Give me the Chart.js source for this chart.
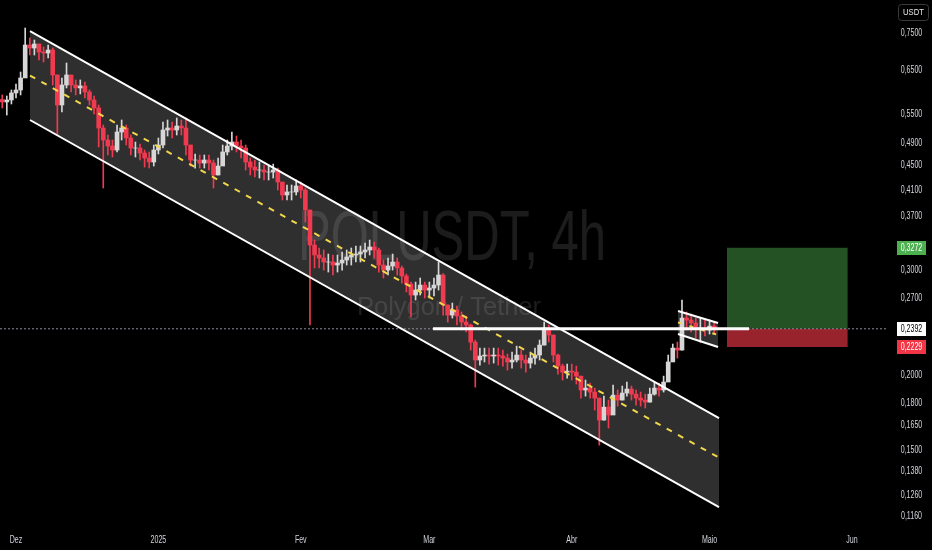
<!DOCTYPE html>
<html>
<head>
<meta charset="utf-8">
<title>POLUSDT, 4h</title>
<script src="https://cdn.jsdelivr.net/npm/chart.js"></script>
<style>
  html, body { margin: 0; padding: 0; background: #000; overflow: hidden; }
  #wrap { width: 932px; height: 550px; }
</style>
</head>
<body>
<div id="wrap"><canvas id="chart"></canvas></div>
<script>
// x values are days counted from 1 Dez 2024, one candle per day
const firstDay = -3;
const firstOpen = 0.5800;
const closes = [
  0.5746, 0.5790, 0.5949, 0.6018, 0.6304, 0.7160, 0.7078, 0.7188, 0.6969, 0.6942,
  0.7023, 0.6377, 0.5679, 0.6135, 0.6377, 0.6135, 0.6065, 0.6112, 0.5972, 0.5790,
  0.5614, 0.5196, 0.4960, 0.4846, 0.4772, 0.5116, 0.5196, 0.4999, 0.4809, 0.4809,
  0.4717, 0.4627, 0.4556, 0.4772, 0.4865, 0.5156, 0.5196, 0.5156, 0.5236, 0.5196,
  0.4865, 0.4591, 0.4591, 0.4538, 0.4591, 0.4538, 0.4333, 0.4486, 0.4736, 0.4846,
  0.4922, 0.4846, 0.4809, 0.4556, 0.4468, 0.4417, 0.4417, 0.4383, 0.4383, 0.4417,
  0.4217, 0.4011, 0.4058, 0.4058, 0.4153, 0.4089, 0.3785, 0.3306, 0.3181, 0.3144,
  0.3096, 0.3096, 0.3060, 0.3084, 0.3120, 0.3156, 0.3181, 0.3193, 0.3218, 0.3243,
  0.3281, 0.3243, 0.3060, 0.3001, 0.3048, 0.3096, 0.3025, 0.2933, 0.2843, 0.2725,
  0.2778, 0.2832, 0.2778, 0.2800, 0.2832, 0.2944, 0.2622, 0.2522, 0.2572, 0.2513,
  0.2455, 0.2427, 0.2272, 0.2120, 0.2153, 0.2161, 0.2153, 0.2161, 0.2153, 0.2136,
  0.2104, 0.2120, 0.2161, 0.2120, 0.2095, 0.2136, 0.2161, 0.2246, 0.2399, 0.2335,
  0.2161, 0.2071, 0.2023, 0.2031, 0.2023, 0.1992, 0.1888, 0.1902, 0.1873, 0.1830,
  0.1681, 0.1767, 0.1714, 0.1851, 0.1816, 0.1866, 0.1895, 0.1858, 0.1830, 0.1816,
  0.1802, 0.1858, 0.1902, 0.1888, 0.1947, 0.2104, 0.2220, 0.2203, 0.2493, 0.2474,
  0.2446, 0.2399, 0.2399, 0.2380, 0.2417, 0.2392
];
const highs = [
  0.5903, 0.5880, 0.6018, 0.6159, 0.6451, 0.7646, 0.7356, 0.7300, 0.7160, 0.7105,
  0.7160, 0.7080, 0.6377, 0.6304, 0.6679, 0.6377, 0.6255, 0.6255, 0.6207, 0.6018,
  0.5880, 0.5679, 0.5256, 0.5057, 0.4960, 0.5256, 0.5359, 0.5256, 0.5057, 0.4922,
  0.4884, 0.4772, 0.4736, 0.4865, 0.4999, 0.5317, 0.5359, 0.5317, 0.5401, 0.5359,
  0.5401, 0.4809, 0.4699, 0.4681, 0.4681, 0.4681, 0.4591, 0.4627, 0.4865, 0.4960,
  0.5116, 0.5037, 0.4960, 0.4865, 0.4627, 0.4591, 0.4556, 0.4503, 0.4486, 0.4520,
  0.4451, 0.4217, 0.4169, 0.4169, 0.4250, 0.4217, 0.4121, 0.3712, 0.3370, 0.3268,
  0.3243, 0.3193, 0.3181, 0.3181, 0.3218, 0.3243, 0.3268, 0.3293, 0.3293, 0.3331,
  0.3370, 0.3344, 0.3268, 0.3120, 0.3144, 0.3193, 0.3144, 0.3048, 0.2955, 0.2865,
  0.2865, 0.2910, 0.2865, 0.2865, 0.2910, 0.3096, 0.2960, 0.2622, 0.2642, 0.2612,
  0.2552, 0.2513, 0.2436, 0.2290, 0.2220, 0.2220, 0.2220, 0.2220, 0.2220, 0.2203,
  0.2169, 0.2186, 0.2237, 0.2203, 0.2161, 0.2186, 0.2220, 0.2290, 0.2455, 0.2427,
  0.2335, 0.2170, 0.2087, 0.2087, 0.2087, 0.2071, 0.1992, 0.1962, 0.1939, 0.1902,
  0.1830, 0.1844, 0.1816, 0.1924, 0.1888, 0.1917, 0.1947, 0.1917, 0.1888, 0.1873,
  0.1858, 0.1902, 0.1947, 0.1939, 0.1992, 0.2161, 0.2255, 0.2272, 0.2673, 0.2552,
  0.2532, 0.2493, 0.2493, 0.2474, 0.2474, 0.2455
];
const lows = [
  0.5614, 0.5463, 0.5701, 0.5835, 0.5903, 0.6377, 0.6889, 0.6889, 0.6757, 0.6705,
  0.6810, 0.6135, 0.5057, 0.5527, 0.6065, 0.5972, 0.5903, 0.5926, 0.5835, 0.5679,
  0.5484, 0.4828, 0.4121, 0.4681, 0.4645, 0.4736, 0.4960, 0.4865, 0.4681, 0.4645,
  0.4591, 0.4468, 0.4451, 0.4486, 0.4699, 0.4809, 0.5037, 0.4999, 0.5057, 0.5057,
  0.4681, 0.4486, 0.4451, 0.4451, 0.4451, 0.4417, 0.4121, 0.4333, 0.4503, 0.4681,
  0.4772, 0.4736, 0.4627, 0.4417, 0.4333, 0.4300, 0.4283, 0.4250, 0.4250, 0.4283,
  0.4089, 0.3934, 0.3934, 0.3934, 0.4011, 0.3965, 0.3613, 0.2427, 0.3025, 0.3025,
  0.3001, 0.2978, 0.2944, 0.2978, 0.3001, 0.3060, 0.3060, 0.3096, 0.3096, 0.3144,
  0.3181, 0.3144, 0.2978, 0.2910, 0.2944, 0.3001, 0.2944, 0.2854, 0.2757, 0.2503,
  0.2673, 0.2725, 0.2694, 0.2694, 0.2715, 0.2778, 0.2522, 0.2455, 0.2493, 0.2427,
  0.2380, 0.2362, 0.2203, 0.1909, 0.2079, 0.2104, 0.2087, 0.2095, 0.2079, 0.2071,
  0.2039, 0.2055, 0.2104, 0.2055, 0.2023, 0.2055, 0.2087, 0.2120, 0.2246, 0.2272,
  0.2104, 0.2008, 0.1962, 0.1977, 0.1962, 0.1932, 0.1830, 0.1844, 0.1830, 0.1747,
  0.1526, 0.1681, 0.1630, 0.1761, 0.1774, 0.1816, 0.1844, 0.1816, 0.1781, 0.1774,
  0.1761, 0.1802, 0.1851, 0.1844, 0.1873, 0.1962, 0.2120, 0.2136, 0.2203, 0.2380,
  0.2362, 0.2308, 0.2272, 0.2326, 0.2344, 0.2344
];

const monthTicks = [0, 31, 62, 90, 121, 151, 182];
const monthLabels = ['Dez', '2025', 'Fev', 'Mar', 'Abr', 'Maio', 'Jun'];
const priceTicks = [0.75, 0.65, 0.55, 0.49, 0.45, 0.41, 0.37, 0.30, 0.27, 0.20, 0.18, 0.165, 0.15, 0.138, 0.126, 0.116];

// descending channel
const channelDays = [3.05, 153.06];
const channelTop = [0.7558, 0.1694];
const channelMid = [0.6364, 0.1454];
const channelBottom = [0.5359, 0.1201];

// small flag after the breakout
const flagDays = [144.13, 152.85];
const flagTop = [0.2562, 0.2446];
const flagMid = [0.2452, 0.2335];
const flagBottom = [0.2344, 0.2229];

// long position
const entryPrice = 0.2392;
const targetPrice = 0.3272;
const stopPrice = 0.2229;
const levelDays = [90.8, 159.6];
const positionDays = [154.8, 181.1];

const xMin = -3.484, xMax = 189.42;
const yMin = 0.11207, yMax = 0.852;

const upColor = '#d6d6d6';
const downColor = '#ef3a50';
const fillGray = 'rgba(255,255,255,0.185)';
const labelFont = "10px 'Liberation Sans', sans-serif";

const days = closes.map((_, i) => firstDay + i);
const opens = closes.map((c, i) => i === 0 ? firstOpen : closes[i - 1]);
const candleColors = closes.map((c, i) => c >= opens[i] ? upColor : downColor);
const fmtPrice = v => Number(v).toFixed(4).replace('.', ',');

const pts = (xs, ys) => xs.map((x, i) => ({ x: x, y: ys[i] }));
const flat = (xs, v) => xs.map(x => ({ x: x, y: v }));

function lineDs(data, opts) {
  return Object.assign({
    type: 'line', data: data, pointRadius: 0, borderWidth: 0,
    borderColor: 'transparent', fill: false, tension: 0
  }, opts);
}

// narrow text, like the TradingView axis font
function narrowText(ctx, text, x, y, squeeze) {
  ctx.save();
  ctx.translate(x, y);
  ctx.scale(squeeze, 1);
  ctx.fillText(text, 0, 0);
  ctx.restore();
}

const bgPlugin = {
  id: 'bg',
  beforeDraw(chart) {
    const ctx = chart.ctx;
    ctx.save();
    ctx.fillStyle = '#000';
    ctx.fillRect(0, 0, chart.width, chart.height);
    ctx.fillStyle = 'rgba(255,255,255,0.11)';
    ctx.textAlign = 'center';
    ctx.textBaseline = 'alphabetic';
    ctx.font = "70px 'Liberation Sans', sans-serif";
    narrowText(ctx, 'POLUSDT, 4h', 452, 260, 308 / ctx.measureText('POLUSDT, 4h').width);
    ctx.font = "26px 'Liberation Sans', sans-serif";
    narrowText(ctx, 'Polygon / Tether', 449, 315, 184 / ctx.measureText('Polygon / Tether').width);
    ctx.restore();
  }
};

const labelPlugin = {
  id: 'axisLabels',
  afterDraw(chart) {
    const ctx = chart.ctx;
    const xs = chart.scales.x, ys = chart.scales.y;
    ctx.save();
    ctx.font = labelFont;
    const sq = 21.6 / ctx.measureText('0,7500').width;
    ctx.textAlign = 'center';
    ctx.textBaseline = 'middle';
    ctx.fillStyle = '#d1d4dc';
    ys.ticks.forEach(t => narrowText(ctx, fmtPrice(t.value), 911.5, ys.getPixelForValue(t.value) + 0.5, sq));
    xs.ticks.forEach(t => narrowText(ctx, monthLabels[monthTicks.indexOf(t.value)], xs.getPixelForValue(t.value), 540, sq));

    const boxes = [
      [targetPrice, '#4caf50', '#fff'],
      [entryPrice, '#fff', '#000'],
      [stopPrice, '#f23645', '#fff']
    ];
    boxes.forEach(([p, bg, fg]) => {
      const py = Math.round(ys.getPixelForValue(p));
      ctx.fillStyle = bg;
      ctx.fillRect(897, py - 7, 29, 14);
      ctx.fillStyle = fg;
      narrowText(ctx, fmtPrice(p), 911.5, py + 0.5, sq);
    });
    // currency box
    ctx.strokeStyle = '#3a3a3a';
    ctx.lineWidth = 1;
    ctx.beginPath();
    ctx.roundRect(898.5, 4.5, 30, 16, 3);
    ctx.stroke();
    ctx.fillStyle = '#e8e8e8';
    ctx.font = "9px 'Liberation Sans', sans-serif";
    narrowText(ctx, 'USDT', 913.5, 13, 0.85);
    ctx.restore();
  }
};

new Chart(document.getElementById('chart'), {
  type: 'bar',
  data: {
    datasets: [
      // fills
      lineDs(pts(channelDays, channelTop), { fill: 1, backgroundColor: fillGray, order: 20 }),
      lineDs(pts(channelDays, channelBottom), { order: 20 }),
      lineDs(pts(flagDays, flagTop), { fill: 3, backgroundColor: fillGray, order: 20 }),
      lineDs(pts(flagDays, flagBottom), { order: 20 }),
      lineDs(flat(positionDays, targetPrice), { fill: 5, backgroundColor: 'rgb(37,82,37)', order: 20 }),
      lineDs(flat(positionDays, entryPrice), { order: 20 }),
      lineDs(flat(positionDays, stopPrice), { fill: 5, backgroundColor: 'rgb(152,35,45)', order: 20 }),
      // last price dotted line
      lineDs(flat([xMin, xMax], entryPrice), { borderWidth: 1, borderColor: '#8a8d96', borderDash: [2, 2], order: 15 }),
      // candles
      {
        type: 'bar', order: 12, grouped: false, barThickness: 1, borderWidth: 0,
        data: days.map((d, i) => ({ x: d, y: [lows[i], Math.max(highs[i], opens[i], closes[i])] })),
        backgroundColor: candleColors
      },
      {
        type: 'bar', order: 11, grouped: false, barThickness: 4, borderWidth: 0,
        data: days.map((d, i) => ({ x: d, y: [opens[i], closes[i]] })),
        backgroundColor: candleColors
      },
      // drawings
      lineDs(pts(channelDays, channelTop), { borderWidth: 2, borderColor: '#fff', order: 5 }),
      lineDs(pts(channelDays, channelBottom), { borderWidth: 2, borderColor: '#fff', order: 5 }),
      lineDs(pts(channelDays, channelMid), { borderWidth: 2, borderColor: '#f2d64b', borderDash: [6, 7], order: 5 }),
      lineDs(pts(flagDays, flagTop), { borderWidth: 2, borderColor: '#fff', order: 5 }),
      lineDs(pts(flagDays, flagBottom), { borderWidth: 2, borderColor: '#fff', order: 5 }),
      lineDs(pts(flagDays, flagMid), { borderWidth: 2, borderColor: '#f2d64b', borderDash: [4, 8], order: 5 }),
      lineDs(flat(levelDays, entryPrice), { borderWidth: 3, borderColor: '#fff', order: 1 })
    ]
  },
  options: {
    responsive: true,
    maintainAspectRatio: false,
    animation: false,
    layout: { padding: 0, autoPadding: false },
    plugins: {
      legend: { display: false },
      tooltip: { enabled: false },
      filler: { drawTime: 'beforeDatasetsDraw' }
    },
    scales: {
      x: {
        type: 'linear', min: xMin, max: xMax, bounds: 'data', offset: false,
        grid: { display: false, drawTicks: false, offset: false }, border: { display: false },
        ticks: { display: false },
        afterBuildTicks: s => { s.ticks = monthTicks.map(v => ({ value: v })); },
        afterFit: s => { s.height = 25; s.paddingLeft = 0; s.paddingRight = 0; }
      },
      y: {
        type: 'logarithmic', position: 'right', min: yMin, max: yMax, bounds: 'data', offset: false,
        grid: { display: false, drawTicks: false }, border: { display: false },
        ticks: { display: false },
        afterBuildTicks: s => { s.ticks = priceTicks.map(v => ({ value: v })); },
        afterFit: s => { s.width = 46; s.paddingTop = 0; s.paddingBottom = 0; }
      }
    }
  },
  plugins: [bgPlugin, labelPlugin]
});
</script>
</body>
</html>
